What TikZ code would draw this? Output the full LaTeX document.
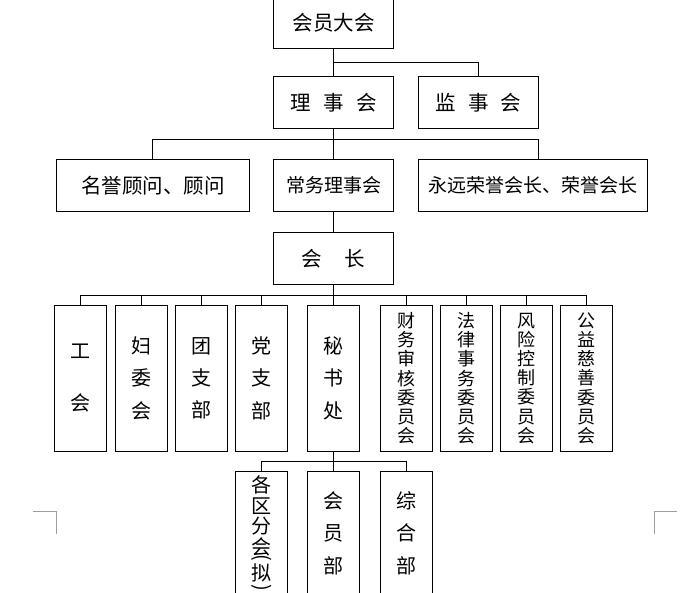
\documentclass[tikz,border=0pt]{standalone}
\usepackage{fontspec}
\usepackage{graphicx}
\newfontfamily\cjk{Noto Sans CJK SC}
\newcommand\paren[1]{\rotatebox{-90}{#1}}

\begin{document}
\begin{tikzpicture}[x=1pt,y=-1pt,line width=0.9pt]
    \tikzstyle{org box}=[draw=black,inner sep=0pt,font=\cjk\fontsize{20.5}{24}\selectfont]
    \tikzstyle{wide box}=[org box,minimum width=120pt,minimum height=52pt]
    \tikzstyle{tall box}=[org box,minimum width=52pt,minimum height=146pt,align=center,font=\cjk\fontsize{20}{32.3}\selectfont]
    \tikzstyle{committee}=[tall box,font=\cjk\fontsize{18}{19.2}\selectfont]
    \tikzstyle{sub box}=[tall box,minimum height=124pt]
    \tikzstyle{crop line}=[draw=black!38]

    \useasboundingbox (0,0) rectangle (700,592);

    % Top levels
    \node[wide box] (A) at (333.6,22.3) {会员大会};
    \node[wide box] (B-1) at (333.6,102.3) {理\hspace{0.6em}事\hspace{0.6em}会};
    \node[wide box,minimum width=120.6pt] (B-2) at (478.3,102.3) {监\hspace{0.6em}事\hspace{0.6em}会};
    \node[wide box,minimum width=193pt] (C-1) at (152.9,185.3) {名誉顾问、顾问};
    \node[wide box,font=\cjk\fontsize{19}{24}\selectfont] (C-2) at (333.6,185.3) {常务理事会};
    \node[wide box,minimum width=229pt,font=\cjk\fontsize{19}{24}\selectfont] (C-3) at (532.5,185.3) {永远荣誉会长、荣誉会长};
    \node[wide box] (D) at (333.6,258.2) {会\hspace{1.1em}长};

    % Departments under the president
    \node[tall box] (E-1) at (80.7,378.3) {工\\[20pt]会};
    \node[tall box] (E-2) at (141.3,378.3) {妇\\委\\会};
    \node[tall box] (E-3) at (201.3,378.3) {团\\支\\部};
    \node[tall box] (E-4) at (261.4,378.3) {党\\支\\部};
    \node[tall box] (E-5) at (333.6,378.3) {秘\\书\\处};
    \node[committee] (E-6) at (406.3,378.3) {财\\务\\审\\核\\委\\员\\会};
    \node[committee] (E-7) at (466.4,378.3) {法\\律\\事\\务\\委\\员\\会};
    \node[committee] (E-8) at (526.9,378.3) {风\\险\\控\\制\\委\\员\\会};
    \node[committee] (E-9) at (586.5,378.3) {公\\益\\慈\\善\\委\\员\\会};

    % Under the secretariat
    \node[sub box,font={\cjk\fontsize{20}{20.7}\selectfont\lineskiplimit-16000pt}] (F-1) at (261.4,533.3)
        {各\\区\\分\\会\\[-20.6pt]\paren{(}\\[5.2pt]拟\\[-16.6pt]\paren{)}};
    \node[sub box] (F-2) at (333.6,533.3) {会\\员\\部};
    \node[sub box] (F-3) at (406.3,533.3) {综\\合\\部};

    % Connectors
    \coordinate (A-bar) at (333.6,62.3);
    \coordinate (B-bar) at (333.6,139.3);
    \coordinate (D-bar) at (333.6,295);
    \coordinate (E-bar) at (333.6,461.7);
    \draw (A) -- (B-1);
    \draw (A-bar) -| (B-2);
    \draw (B-1) -- (C-2);
    \draw (B-bar) -| (C-1);
    \draw (B-bar) -| ([xshift=6.1pt]C-3.north);
    \draw (C-2) -- (D);
    \draw (D) -- (E-5);
    \foreach \i in {1,...,9}
        \draw (D-bar) -| (E-\i);
    \draw (E-5) -- (F-2);
    \draw (E-bar) -| (F-1);
    \draw (E-bar) -| (F-3);

    % Page corner marks
    \draw[crop line] (33,511) -- (56,511) -- (56,534);
    \draw[crop line] (654,534) -- (654,511) -- (677,511);
\end{tikzpicture}
\end{document}
